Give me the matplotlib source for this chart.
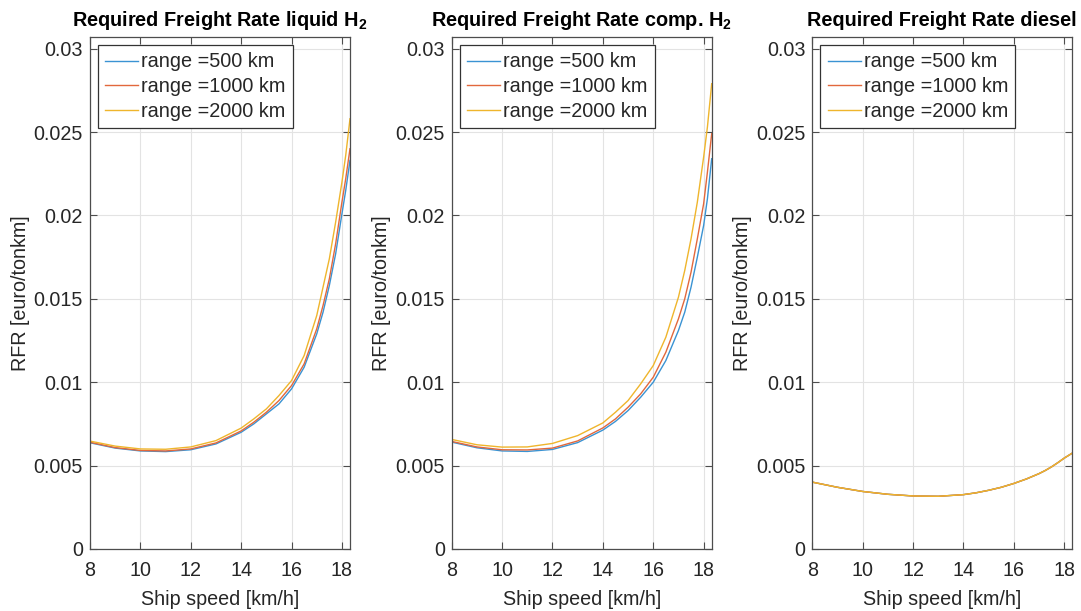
import matplotlib
matplotlib.use("Agg")
import matplotlib.pyplot as plt
from matplotlib.ticker import FuncFormatter, MultipleLocator

plt.rcParams['font.family'] = ['Liberation Sans', 'DejaVu Sans']
plt.rcParams['mathtext.fontset'] = 'custom'
plt.rcParams['mathtext.rm'] = 'Liberation Sans'
plt.rcParams['mathtext.bf'] = 'Liberation Sans:bold'

# ---- data ----
speeds = [8, 9, 10, 11, 12, 13, 14, 14.5, 15, 15.5, 16, 16.5, 17, 17.25, 17.5, 17.75, 18, 18.15, 18.32]
ranges = [500, 1000, 2000]

liquid_500 = [0.00637, 0.00605, 0.00588, 0.00584, 0.00595, 0.00630, 0.00700, 0.00750, 0.00810,
              0.00870, 0.00960, 0.01090, 0.01290, 0.01420, 0.01580, 0.01770, 0.02010, 0.02150, 0.02330]
liquid_1000 = [0.00640, 0.00608, 0.00591, 0.00588, 0.00600, 0.00636, 0.00708, 0.00760, 0.00820,
               0.00890, 0.00980, 0.01110, 0.01320, 0.01460, 0.01620, 0.01830, 0.02080, 0.02220, 0.02400]
liquid_2000 = [0.00647, 0.00617, 0.00600, 0.00598, 0.00612, 0.00650, 0.00725, 0.00780, 0.00840,
               0.00920, 0.01010, 0.01160, 0.01400, 0.01570, 0.01740, 0.01960, 0.02200, 0.02360, 0.02580]

comp_500 = [0.00641, 0.00607, 0.00588, 0.00585, 0.00597, 0.00638, 0.00713, 0.00765, 0.00830,
            0.00910, 0.01000, 0.01130, 0.01310, 0.01420, 0.01570, 0.01750, 0.01940, 0.02100, 0.02340]
comp_1000 = [0.00645, 0.00612, 0.00595, 0.00594, 0.00605, 0.00648, 0.00726, 0.00780, 0.00850,
             0.00930, 0.01030, 0.01180, 0.01380, 0.01500, 0.01660, 0.01860, 0.02070, 0.02260, 0.02490]
comp_2000 = [0.00657, 0.00625, 0.00611, 0.00612, 0.00633, 0.00680, 0.00756, 0.00820, 0.00890,
             0.00990, 0.01100, 0.01270, 0.01510, 0.01670, 0.01860, 0.02080, 0.02350, 0.02530, 0.02790]

diesel_500 = [0.00401, 0.00370, 0.00345, 0.00328, 0.00318, 0.00316, 0.00326, 0.00337, 0.00352,
              0.00370, 0.00393, 0.00420, 0.00452, 0.00471, 0.00493, 0.00518, 0.00545, 0.00559, 0.00575]
diesel_1000 = list(diesel_500)
diesel_2000 = list(diesel_500)

titles = [r'Required Freight Rate liquid H$_\mathbf{2}$',
          r'Required Freight Rate comp. H$_\mathbf{2}$',
          'Required Freight Rate diesel']
xlabel = 'Ship speed [km/h]'
ylabel = 'RFR [euro/tonkm]'

# ---- style ----
colors = ['#3a93d3', '#e2683c', '#efb52c']
txt = '#262626'
W, H = 1081, 611
fig = plt.figure(figsize=(W / 100, H / 100), dpi=100)

lefts = [90, 451.7, 812.3]
ax_w = 260
ax_top, ax_bot = 37, 549

panels = [(liquid_500, liquid_1000, liquid_2000),
          (comp_500, comp_1000, comp_2000),
          (diesel_500, diesel_1000, diesel_2000)]

fmt = FuncFormatter(lambda v, p: '%g' % round(v, 6))

for i, (series, title) in enumerate(zip(panels, titles)):
    ax = fig.add_axes([lefts[i] / W, (H - ax_bot) / H, ax_w / W, (ax_bot - ax_top) / H])
    for s, r, c in zip(series, ranges, colors):
        ax.plot(speeds, s, color=c, lw=1.0, label='range =%d km' % r)
    ax.set_xlim(8, speeds[-1])
    ax.set_ylim(0, 0.0307)
    ax.xaxis.set_major_locator(MultipleLocator(2))
    ax.yaxis.set_major_locator(MultipleLocator(0.005))
    ax.yaxis.set_major_formatter(fmt)
    ax.grid(True, color='#e3e3e3', lw=0.8)
    ax.set_axisbelow(True)
    for sp in ax.spines.values():
        sp.set_color('#4d4d4d')
        sp.set_linewidth(0.9)
    ax.tick_params(direction='in', length=5, width=0.8, color='#4d4d4d',
                   top=True, right=True, labelsize=14.2, labelcolor=txt)
    ax.tick_params(axis='x', pad=8.5)
    ax.tick_params(axis='y', pad=5)
    ax.set_xlabel(xlabel, fontsize=14.2, color=txt, labelpad=7)
    ax.set_ylabel(ylabel, fontsize=14.2, color=txt, labelpad=3)
    ax.set_title(title, fontsize=14.3, fontweight='bold', color='black', pad=8)
    leg = ax.legend(loc='upper left', fontsize=14.3, frameon=True, fancybox=False,
                    framealpha=1, edgecolor='#333333', handlelength=1.65,
                    handletextpad=0.15, labelspacing=0.28, borderpad=0.38,
                    borderaxespad=0.4)
    leg.get_frame().set_linewidth(0.9)
    for t in leg.get_texts():
        t.set_color(txt)

fig.savefig('out.png', dpi=100)
